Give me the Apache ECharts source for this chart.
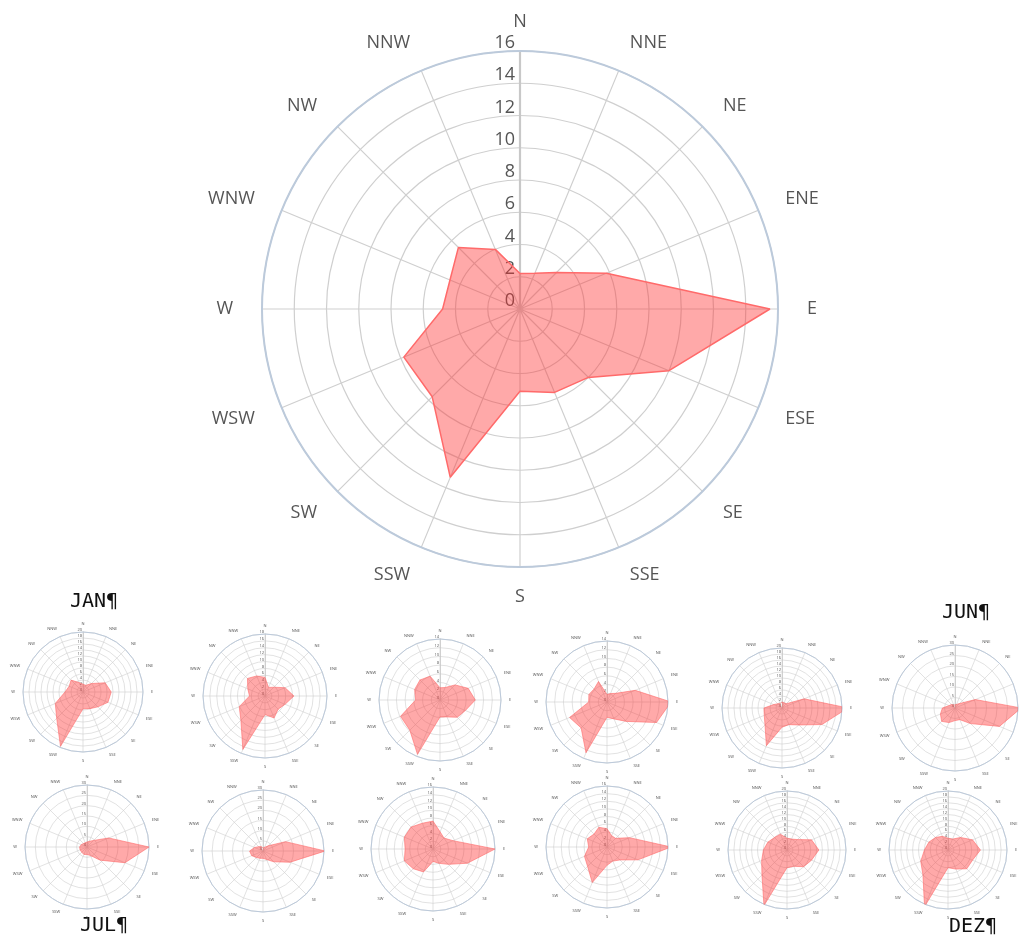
<!DOCTYPE html>
<html><head><meta charset="utf-8">
<script src="https://cdn.jsdelivr.net/npm/echarts@6/dist/echarts.min.js"></script>
<style>html,body{margin:0;padding:0;background:#fff}#c{width:1019px;height:938px}</style>
</head><body><div id="c"></div>
<script>
// ---------- data ----------
const directions = ['N','NNE','NE','ENE','E','ESE','SE','SSE','S','SSW','SW','WSW','W','WNW','NW','NNW'];
const annual = [2.2, 2.4, 3.2, 5.8, 15.5, 10.0, 6.0, 5.6, 5.1, 11.3, 7.7, 7.8, 4.8, 4.7, 5.4, 4.0];
const annualMax = 16;
const annualStep = 2;

const jan = [2.6, 2.4, 4.0, 8.0, 9.4, 9.0, 7.0, 6.0, 5.6, 19.6, 12.4, 10.0, 6.0, 5.0, 5.6, 3.4];
const feb = [5.4, 2.7, 3.6, 6.3, 8.4, 6.3, 5.4, 6.9, 5.4, 16.8, 9.9, 8.1, 4.5, 5.4, 7.2, 6.3];
const mar = [2.8, 3.1, 4.9, 7.0, 8.1, 6.3, 5.6, 4.2, 3.9, 13.5, 9.8, 9.8, 5.6, 6.3, 6.5, 5.9];
const apr = [1.7, 2.1, 2.8, 7.0, 14.7, 12.3, 6.3, 4.2, 3.5, 12.6, 8.4, 9.3, 4.2, 4.5, 4.2, 5.1];
const may = [2.0, 1.6, 2.0, 8.0, 22.0, 14.4, 8.0, 6.0, 6.4, 13.6, 8.0, 6.4, 6.0, 3.0, 2.0, 1.6];
const jun = [1.5, 1.5, 3.0, 10.5, 31.5, 22.9, 10.5, 6.0, 6.0, 7.5, 9.0, 7.5, 6.0, 3.0, 2.4, 1.5];
const jul = [2.4, 3.0, 4.5, 11.4, 30.0, 19.9, 9.0, 4.5, 3.6, 3.9, 3.6, 3.6, 3.6, 3.0, 2.4, 2.1];
const aug = [1.5, 2.4, 3.6, 12.0, 30.6, 14.4, 7.5, 4.5, 3.6, 3.9, 4.5, 6.0, 6.6, 4.5, 3.0, 2.4];
const sep = [7.2, 4.8, 4.0, 5.6, 16.0, 9.6, 5.6, 4.0, 3.2, 6.4, 7.2, 8.0, 7.2, 8.0, 8.0, 7.2];
const oct = [4.8, 3.2, 3.2, 6.4, 16.8, 8.8, 4.8, 4.0, 4.8, 10.1, 7.2, 6.4, 4.8, 5.6, 4.8, 5.6];
const nov = [4.0, 4.0, 5.0, 9.0, 10.8, 9.0, 8.0, 6.0, 6.0, 20.4, 12.0, 9.3, 8.0, 7.0, 6.0, 5.8];
const dez = [4.0, 4.0, 6.0, 9.0, 11.0, 9.0, 9.0, 7.0, 6.0, 20.8, 12.0, 10.0, 8.0, 7.0, 6.0, 5.0];
const months = [jan, feb, mar, apr, may, jun, jul, aug, sep, oct, nov, dez];
const monthMax = [20, 18, 14, 14, 20, 30, 30, 30, 16, 16, 20, 20];
const monthStep = [2, 2, 2, 2, 2, 5, 5, 5, 2, 2, 2, 2];
const captions = ['JAN¶', 'JUN¶', 'JUL¶', 'DEZ¶'];

// ---------- layout ----------
const mainCenter = [520, 309], mainRadius = 258;
const smallCenters = [
  [83, 692], [265, 696], [440, 700], [607, 702], [782, 708], [955, 708],
  [87, 847], [263, 851], [433, 849], [607, 847], [787, 850], [948, 850]
];
const smallRadius = [60, 62, 61, 61, 60, 63, 62, 61, 62, 61, 59, 59];
const captionPos = [[94, 602], [966, 613], [104, 926], [973, 927]];

function toPolar(vals) {
  const d = vals.map((v, i) => [v, i * 22.5]);
  d.push([vals[0], 360]);
  return d;
}

const polar = [], angleAxis = [], radiusAxis = [], series = [];
function addChart(idx, center, radius, vals, max, step, big) {
  polar.push({ center: center, radius: radius });
  angleAxis.push({
    polarIndex: idx, type: 'value', min: 0, max: 360, interval: 22.5,
    startAngle: 90, clockwise: true,
    axisLine: { lineStyle: { color: '#bccadb', width: big ? 2 : 1 } },
    axisTick: { show: false },
    axisLabel: {
      formatter: v => directions[Math.round(v / 22.5) % 16],
      margin: big ? 29 : 8, color: '#555', lineHeight: 1,
      fontSize: big ? 18 : 4, fontFamily: 'Open Sans'
    },
    splitLine: { show: true, lineStyle: { color: '#cfcfcf', width: big ? 1.2 : 0.6 } }
  });
  radiusAxis.push({
    polarIndex: idx, type: 'value', min: 0, max: max, interval: step,
    axisLine: { show: true, lineStyle: { color: '#c8c8c8', width: big ? 2.2 : 0.8 } },
    axisTick: { show: false },
    axisLabel: {
      show: true, color: '#555', fontSize: big ? 18 : 4, fontFamily: 'Open Sans',
      margin: big ? 5 : 1, verticalAlign: 'bottom', lineHeight: big ? 16 : 4
    },
    splitLine: { show: true, lineStyle: { color: '#cfcfcf', width: big ? 1.2 : 0.6 } }
  });
  series.push({
    type: 'line', coordinateSystem: 'polar', polarIndex: idx,
    data: toPolar(vals), symbol: 'none', clip: false, silent: true,
    lineStyle: { color: '#ff6a6a', width: big ? 1.5 : 0.6 },
    areaStyle: { color: 'rgba(255,50,50,0.6)' },
    z: 5
  });
}

addChart(0, mainCenter, mainRadius, annual, annualMax, annualStep, true);
months.forEach((m, i) => addChart(i + 1, smallCenters[i], smallRadius[i], m, monthMax[i], monthStep[i], false));

const graphic = captions.map((t, i) => ({
  type: 'text', x: captionPos[i][0], y: captionPos[i][1],
  style: { text: t, fontFamily: 'DejaVu Sans Mono', fontSize: 20,
           fill: '#111', align: 'center', verticalAlign: 'middle' }
}));

const chart = echarts.init(document.getElementById('c'), null, { renderer: 'canvas' });
chart.setOption({
  animation: false,
  backgroundColor: '#fff',
  polar: polar, angleAxis: angleAxis, radiusAxis: radiusAxis, series: series,
  graphic: graphic
});
</script></body></html>
